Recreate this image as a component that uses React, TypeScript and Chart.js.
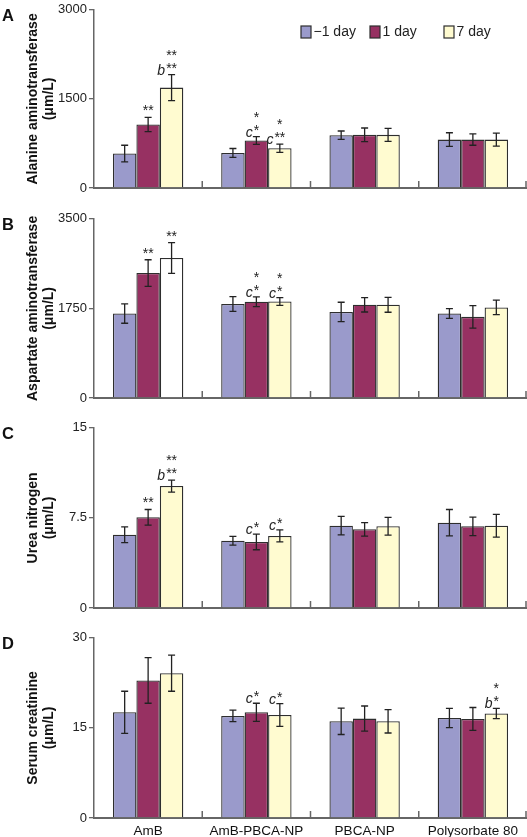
import React, { useEffect, useRef } from 'react';
import { Chart, registerables } from 'chart.js';
Chart.register(...registerables);

// ---------- data ----------
const categories = ['AmB', 'AmB-PBCA-NP', 'PBCA-NP', 'Polysorbate 80'];
const seriesLabels = ['\u22121 day', '1 day', '7 day'];

// A: Alanine aminotransferase
const altMinus1 = [580, 590, 890, 815];
const altDay1 = [1070, 800, 895, 815];
const altDay7 = [1690, 670, 895, 815];
const altErrMinus1 = [140, 75, 70, 115];
const altErrDay1 = [120, 65, 115, 95];
const altErrDay7 = [220, 70, 110, 110];
const altMarks = [
  ['', '', '', ''],
  ['**', 'c*|*', '', ''],
  ['b**|**', 'c**|*', '', ''],
];

// B: Aspartate aminotransferase
const astMinus1 = [1650, 1835, 1680, 1650];
const astDay1 = [2440, 1880, 1820, 1585];
const astDay7 = [2735, 1885, 1820, 1770];
const astErrMinus1 = [190, 145, 190, 95];
const astErrDay1 = [260, 95, 140, 220];
const astErrDay7 = [300, 75, 145, 140];
const astMarks = [
  ['', '', '', ''],
  ['**', 'c*|*', '', ''],
  ['**', 'c*|*', '', ''],
];

// C: Urea nitrogen
const ureaMinus1 = [6.1, 5.6, 6.85, 7.1];
const ureaDay1 = [7.55, 5.5, 6.55, 6.8];
const ureaDay7 = [10.15, 6.0, 6.8, 6.85];
const ureaErrMinus1 = [0.65, 0.37, 0.77, 1.1];
const ureaErrDay1 = [0.65, 0.65, 0.56, 0.77];
const ureaErrDay7 = [0.5, 0.5, 0.74, 0.95];
const ureaMarks = [
  ['', '', '', ''],
  ['**', 'c*', '', ''],
  ['b**|**', 'c*', '', ''],
];

// D: Serum creatinine
const creMinus1 = [17.6, 17.0, 16.1, 16.65];
const creDay1 = [22.9, 17.6, 16.55, 16.5];
const creDay7 = [24.1, 17.15, 16.1, 17.4];
const creErrMinus1 = [3.5, 0.95, 2.2, 1.6];
const creErrDay1 = [3.8, 1.5, 2.1, 1.9];
const creErrDay7 = [3.0, 1.9, 1.95, 0.85];
const creMarks = [
  ['', '', '', ''],
  ['', 'c*', '', ''],
  ['', 'c*', '', 'b*|*'],
];

const yMaxA = 3000;
const yMaxB = 3500;
const yMaxC = 15;
const yMaxD = 30;

// ---------- styles ----------
const FONT = '"Liberation Sans", Arial, Helvetica, sans-serif';
const COLORS = ['#9a9acb', '#973162', '#fffbd0'];
const BORDER = '#2e2e2e';
const AXIS = '#666666';

interface Panel {
  letter: string;
  title: string[];
  max: number;
  values: number[][];
  errs: number[][];
  marks: string[][];
  fills?: (string | string[])[];
  legend: boolean;
  xLabels: boolean;
  top: number;
  areaTop: number;
  xHeight: number;
  height: number;
}

const panels: Panel[] = [
  {
    letter: 'A', title: ['Alanine aminotransferase', '(\u03bcm/L)'], max: yMaxA,
    values: [altMinus1, altDay1, altDay7], errs: [altErrMinus1, altErrDay1, altErrDay7], marks: altMarks,
    legend: true, xLabels: false, top: 0, areaTop: 6, xHeight: 21, height: 209,
  },
  {
    letter: 'B', title: ['Aspartate aminotransferase', '(\u03bcm/L)'], max: yMaxB,
    values: [astMinus1, astDay1, astDay7], errs: [astErrMinus1, astErrDay1, astErrDay7], marks: astMarks,
    fills: [COLORS[0], COLORS[1], ['#ffffff', COLORS[2], COLORS[2], COLORS[2]]],
    legend: false, xLabels: false, top: 209, areaTop: 6, xHeight: 20, height: 209,
  },
  {
    letter: 'C', title: ['Urea nitrogen', '(\u03bcm/L)'], max: yMaxC,
    values: [ureaMinus1, ureaDay1, ureaDay7], errs: [ureaErrMinus1, ureaErrDay1, ureaErrDay7], marks: ureaMarks,
    legend: false, xLabels: false, top: 418, areaTop: 6, xHeight: 20, height: 210,
  },
  {
    letter: 'D', title: ['Serum creatinine', '(\u03bcm/L)'], max: yMaxD,
    values: [creMinus1, creDay1, creDay7], errs: [creErrMinus1, creErrDay1, creErrDay7], marks: creMarks,
    legend: false, xLabels: true, top: 628, areaTop: 7, xHeight: 19, height: 209,
  },
];

function makeOverlay(panel: Panel) {
  return {
    id: 'overlay' + panel.letter,
    afterDatasetsDraw(chart: any) {
      const ctx = chart.ctx as CanvasRenderingContext2D;
      const area = chart.chartArea;
      const ys = chart.scales.y;
      ctx.save();
      // inner category ticks
      ctx.strokeStyle = AXIS;
      ctx.lineWidth = 1.5;
      const n = categories.length;
      const w = (area.right - area.left) / n;
      for (let i = 1; i <= n; i++) {
        const x = Math.min(area.left + i * w, area.right - 1);
        ctx.beginPath();
        ctx.moveTo(x, area.bottom);
        ctx.lineTo(x, area.bottom - 7);
        ctx.stroke();
      }
      // error bars + significance marks
      chart.data.datasets.forEach((ds: any, di: number) => {
        const meta = chart.getDatasetMeta(di);
        meta.data.forEach((bar: any, i: number) => {
          const v = ds.data[i];
          const e = panel.errs[di][i];
          const cx = bar.x;
          const yt = ys.getPixelForValue(v + e);
          const yb = ys.getPixelForValue(v - e);
          ctx.strokeStyle = '#222';
          ctx.lineWidth = 1.3;
          ctx.beginPath();
          ctx.moveTo(cx, yt);
          ctx.lineTo(cx, yb);
          ctx.moveTo(cx - 3.5, yt);
          ctx.lineTo(cx + 3.5, yt);
          ctx.moveTo(cx - 3.5, yb);
          ctx.lineTo(cx + 3.5, yb);
          ctx.stroke();
          const mark = panel.marks[di][i];
          if (mark) {
            const rows = mark.split('|');
            rows.forEach((row, r) => {
              const m = row.match(/^([a-z]*)(.*)$/) as RegExpMatchArray;
              const letter = m[1];
              const stars = m[2];
              const by = yt - 2 - r * 13;
              ctx.fillStyle = '#222';
              ctx.font = `14px ${FONT}`;
              ctx.textAlign = 'center';
              ctx.textBaseline = 'alphabetic';
              ctx.fillText(stars, cx, by);
              if (letter) {
                const sw = ctx.measureText(stars).width;
                ctx.font = `italic 14px ${FONT}`;
                ctx.textAlign = 'right';
                ctx.fillText(letter, cx - sw / 2 - 1, by + 2);
              }
            });
          }
        });
      });
      ctx.restore();
    },
    afterDraw(chart: any) {
      const ctx = chart.ctx as CanvasRenderingContext2D;
      const area = chart.chartArea;
      ctx.save();
      ctx.fillStyle = '#111';
      ctx.font = `bold 16.5px ${FONT}`;
      ctx.textAlign = 'left';
      ctx.textBaseline = 'alphabetic';
      ctx.fillText(panel.letter, 2, area.top + 11.5);
      if (panel.legend) {
        const boxX = [301, 370, 444];
        ctx.font = `14px ${FONT}`;
        ctx.textBaseline = 'middle';
        seriesLabels.forEach((lab, k) => {
          ctx.fillStyle = COLORS[k];
          ctx.fillRect(boxX[k], 26, 10, 12);
          ctx.strokeStyle = BORDER;
          ctx.lineWidth = 1.2;
          ctx.strokeRect(boxX[k], 26, 10, 12);
          ctx.fillStyle = '#222';
          ctx.fillText(lab, boxX[k] + 12.5, 32.5);
        });
      }
      ctx.restore();
    },
  };
}

function PanelChart({ panel }: { panel: Panel }) {
  const ref = useRef<HTMLCanvasElement | null>(null);
  useEffect(() => {
    if (!ref.current) return;
    const chart = new Chart(ref.current, {
      type: 'bar',
      data: {
        labels: categories,
        datasets: panel.values.map((vals, k) => ({
          label: seriesLabels[k],
          data: vals,
          backgroundColor: (panel.fills ? panel.fills[k] : COLORS[k]) as any,
          borderColor: BORDER,
          borderWidth: 1.3,
          barPercentage: 1.0,
          categoryPercentage: 0.65,
        })),
      },
      options: {
        animation: false,
        responsive: false,
        maintainAspectRatio: false,
        layout: { padding: { top: panel.areaTop, left: 0, right: 0, bottom: 0 } },
        plugins: { legend: { display: false }, tooltip: { enabled: false } },
        scales: {
          x: {
            type: 'category',
            grid: { display: false, drawTicks: false },
            border: { display: true, color: AXIS, width: 2 },
            ticks: {
              display: panel.xLabels,
              font: { family: FONT, size: 13.5 },
              color: '#111',
              padding: 5,
              maxRotation: 0,
              autoSkip: false,
            },
            afterFit: (s: any) => { s.height = panel.xHeight; },
          },
          y: {
            min: 0,
            max: panel.max,
            ticks: {
              stepSize: panel.max / 2,
              font: { family: FONT, size: 13 },
              color: '#222',
              padding: 2,
              callback: (v: any) => String(v),
            },
            grid: { drawOnChartArea: false, drawTicks: true, tickLength: 5, color: AXIS, lineWidth: 1.3 },
            border: { display: true, color: AXIS, width: 1.5 },
            title: {
              display: true,
              text: panel.title,
              font: { family: FONT, size: 14, weight: 'bold', lineHeight: 1.143 },
              color: '#111',
              padding: { top: 25, bottom: 0 },
            },
            afterFit: (s: any) => { s.width = 94; },
          },
        },
      },
      plugins: [makeOverlay(panel)],
    } as any);
    return () => chart.destroy();
  }, [panel]);
  return (
    <canvas
      ref={ref}
      width={527}
      height={panel.height}
      style={{ position: 'absolute', left: 0, top: panel.top, width: 527, height: panel.height }}
    />
  );
}

export default function App() {
  return (
    <div style={{ position: 'absolute', left: 0, top: 0, width: 527, height: 837, background: '#fff' }}>
      {panels.map((p) => (
        <PanelChart key={p.letter} panel={p} />
      ))}
    </div>
  );
}
